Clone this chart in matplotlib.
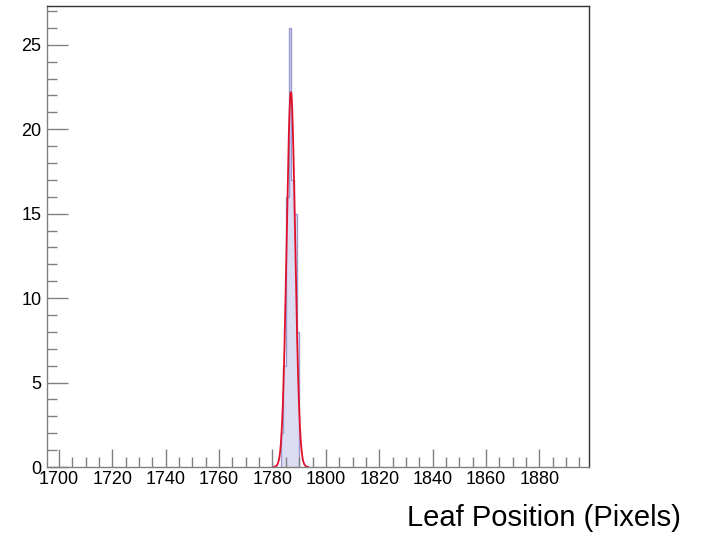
import numpy as np
import matplotlib
matplotlib.use('Agg')
import matplotlib.pyplot as plt

# histogram of leaf positions (1 pixel bins)
bin_edges = [1783, 1784, 1785, 1786, 1787, 1788, 1789, 1790]
counts = [2, 6, 16, 26, 17, 15, 8]

# gaussian fit parameters
fit_amp = 22.2
fit_mean = 1786.9
fit_sigma = 1.6
fit_lo, fit_hi = 1780.5, 1793.3

x_min, x_max = 1695.5, 1898.6
y_max = 27.3

plt.rcParams['font.family'] = ['Liberation Sans', 'DejaVu Sans']

fig = plt.figure(figsize=(7.07, 5.35), dpi=100)
ax = fig.add_axes([47/707, 68/535, 542/707, 461/535])

ax.stairs(counts, bin_edges, baseline=0, fill=True, color='#dcdcf2', lw=0)
ax.stairs(counts, bin_edges, baseline=0, color='#9a9ad0', lw=1)

xf = np.linspace(fit_lo, fit_hi, 300)
yf = fit_amp * np.exp(-0.5 * ((xf - fit_mean) / fit_sigma) ** 2)
ax.plot(xf, yf, color='#e0102a', lw=1.3)

ax.set_xlim(x_min, x_max)
ax.set_ylim(0, y_max)
ax.set_xticks(np.arange(1700, 1881, 20))
ax.set_xticks(np.arange(1700, 1900, 5), minor=True)
ax.set_yticks(np.arange(0, 26, 5))
ax.set_yticks(np.arange(0, 28, 1), minor=True)

ax.tick_params(axis='both', which='both', direction='in', color='#808080',
               top=False, right=False, labelsize=13)
ax.tick_params(axis='x', which='major', length=13, width=1, pad=3)
ax.tick_params(axis='x', which='minor', length=7, width=1)
ax.tick_params(axis='y', which='major', length=15, width=1, pad=4)
ax.tick_params(axis='y', which='minor', length=7.5, width=1)

for s in ['left', 'bottom']:
    ax.spines[s].set_color('#808080')
for s in ['top', 'right']:
    ax.spines[s].set_color('#333333')
for s in ax.spines.values():
    s.set_linewidth(1)

fig.text(681/707, 1 - 518/535, 'Leaf Position (Pixels)', ha='right', va='center', fontsize=21)

plt.savefig('out.png', dpi=100)
